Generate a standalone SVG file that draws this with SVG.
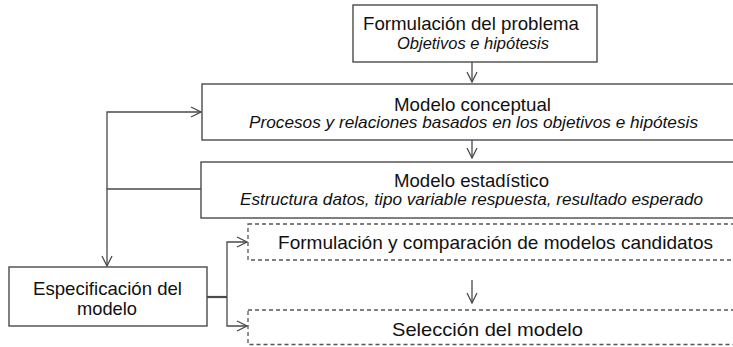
<svg xmlns="http://www.w3.org/2000/svg" width="733" height="347" viewBox="0 0 733 347">
<style>
  .box { fill: #fff; stroke: #4a4a4a; stroke-width: 1.4; }
  .dbox { fill: #fff; stroke: #555; stroke-width: 1.3; stroke-dasharray: 4 3; }
  .t { font-family: "Liberation Sans", Arial, sans-serif; font-size: 19px; fill: #111; text-anchor: middle; }
  .i { font-family: "Liberation Sans", Arial, sans-serif; font-size: 16.5px; font-style: italic; fill: #111; text-anchor: middle; }
  .c { fill: none; stroke: #4a4a4a; stroke-width: 1.3; }
</style>
<defs>
  <marker id="arr" viewBox="0 0 12 12" refX="11" refY="6" markerWidth="12" markerHeight="12" orient="auto" markerUnits="userSpaceOnUse">
    <path d="M1,1 L11,6 L1,11" fill="none" stroke="#4a4a4a" stroke-width="1.3"/>
  </marker>
</defs>
<rect width="733" height="347" fill="#fff"/>
<g id="connectors">
  <path class="c" d="M472,62 V82" marker-end="url(#arr)"/>
  <path class="c" d="M472,140 V158" marker-end="url(#arr)"/>
  <path class="c" d="M472,280 V303" marker-end="url(#arr)"/>
  <path class="c" d="M107,189 V112 H201" marker-end="url(#arr)"/>
  <path class="c" d="M201,189 H107 V266" marker-end="url(#arr)"/>
  <path class="c" d="M207,297 H227" style="stroke-width:2.2"/>
  <path class="c" d="M227,297 V242 H247" marker-end="url(#arr)"/>
  <path class="c" d="M227,297 V326 H247" marker-end="url(#arr)"/>
</g>
<g id="formulacion">
  <rect class="box" x="353" y="5" width="244" height="57"/>
  <text class="t" x="471" y="30" textLength="216" lengthAdjust="spacingAndGlyphs">Formulación del problema</text>
  <text class="i" x="473" y="49" textLength="152" lengthAdjust="spacingAndGlyphs">Objetivos e hipótesis</text>
</g>
<g id="conceptual">
  <rect class="box" x="202" y="84" width="545" height="56"/>
  <text class="t" x="472.5" y="111" textLength="157" lengthAdjust="spacingAndGlyphs">Modelo conceptual</text>
  <text class="i" x="473.5" y="128" textLength="449" lengthAdjust="spacingAndGlyphs">Procesos y relaciones basados en los objetivos e hipótesis</text>
</g>
<g id="estadistico">
  <rect class="box" x="201" y="162" width="546" height="56"/>
  <text class="t" x="471.5" y="187" textLength="155" lengthAdjust="spacingAndGlyphs">Modelo estadístico</text>
  <text class="i" x="471.5" y="205" textLength="463" lengthAdjust="spacingAndGlyphs">Estructura datos, tipo variable respuesta, resultado esperado</text>
</g>
<g id="candidatos">
  <rect class="dbox" x="248" y="224" width="500" height="36"/>
  <text class="t" x="495.5" y="249" textLength="435" lengthAdjust="spacingAndGlyphs">Formulación y comparación de modelos candidatos</text>
</g>
<g id="seleccion">
  <rect class="dbox" x="248" y="310" width="500" height="34.5"/>
  <text class="t" x="487.5" y="336" textLength="191" lengthAdjust="spacingAndGlyphs">Selección del modelo</text>
</g>
<g id="especificacion">
  <rect class="box" x="9" y="267" width="198" height="59"/>
  <text class="t" x="107.5" y="295" textLength="149" lengthAdjust="spacingAndGlyphs">Especificación del</text>
  <text class="t" x="107" y="315" textLength="60" lengthAdjust="spacingAndGlyphs">modelo</text>
</g>
</svg>
